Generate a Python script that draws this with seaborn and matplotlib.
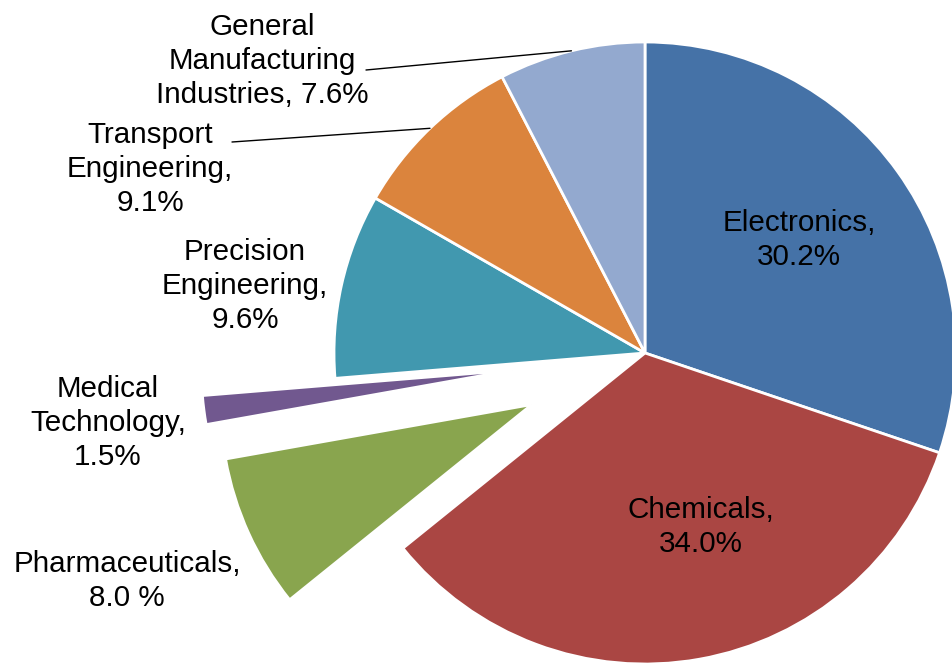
import numpy as np
import matplotlib
matplotlib.use("Agg")
import matplotlib.pyplot as plt
import seaborn as sns

# ---- data ----
categories = ["Electronics", "Chemicals", "Pharmaceuticals", "Medical Technology",
              "Precision Engineering", "Transport Engineering",
              "General Manufacturing Industries"]
shares = [30.2, 34.0, 8.0, 1.5, 9.6, 9.1, 7.6]
label_texts = ["Electronics,\n30.2%", "Chemicals,\n34.0%", "Pharmaceuticals,\n8.0 %",
               "Medical\nTechnology,\n1.5%", "Precision\nEngineering,\n9.6%",
               "Transport\nEngineering,\n9.1%", "General\nManufacturing\nIndustries, 7.6%"]
colors = ["#4572A7", "#AA4643", "#89A54E", "#71588F", "#4198AF", "#DB843D", "#93A9CF"]
explode_frac = [0, 0, 0.40, 0.43, 0, 0, 0]

# ---- layout (pixel positions of labels, y from top) ----
W, H = 953, 668
center_px = (645, 353)
radius_px = 311
label_pos_px = [(799, 240), (701, 527), (127, 581), (108, 423), (245, 286),
                (150, 169), (262, 61)]
leader_start_px = {5: (232, 142), 6: (366, 70)}

sns.set_theme(style="white")
plt.rcParams['font.family'] = ['Liberation Sans', 'DejaVu Sans']

fig = plt.figure(figsize=(W / 100, H / 100), dpi=100)
ax = fig.add_axes([0, 0, 1, 1])

cx, cy = center_px[0], H - center_px[1]
# matplotlib's explode is in data units, so scale by the radius
explode = [e * radius_px for e in explode_frac]
wedges, _ = ax.pie(shares, colors=colors, explode=explode, startangle=90,
                   counterclock=False, radius=radius_px, center=(cx, cy),
                   wedgeprops=dict(edgecolor="white", linewidth=2))

for i, (txt, (px, py)) in enumerate(zip(label_texts, label_pos_px)):
    ax.text(px, H - py, txt, ha="center", va="center", multialignment="center",
            fontsize=21.3, color="black", linespacing=1.27)

for i, (sx, sy) in leader_start_px.items():
    w = wedges[i]
    mid = np.deg2rad((w.theta1 + w.theta2) / 2)
    ex = cx + radius_px * np.cos(mid)
    ey = cy + radius_px * np.sin(mid)
    ax.plot([sx, ex], [H - sy, ey], color="black", linewidth=1)

ax.set_xlim(0, W)
ax.set_ylim(0, H)
ax.set_aspect("equal")
ax.axis("off")
fig.savefig("out.png", dpi=100, facecolor="white")
